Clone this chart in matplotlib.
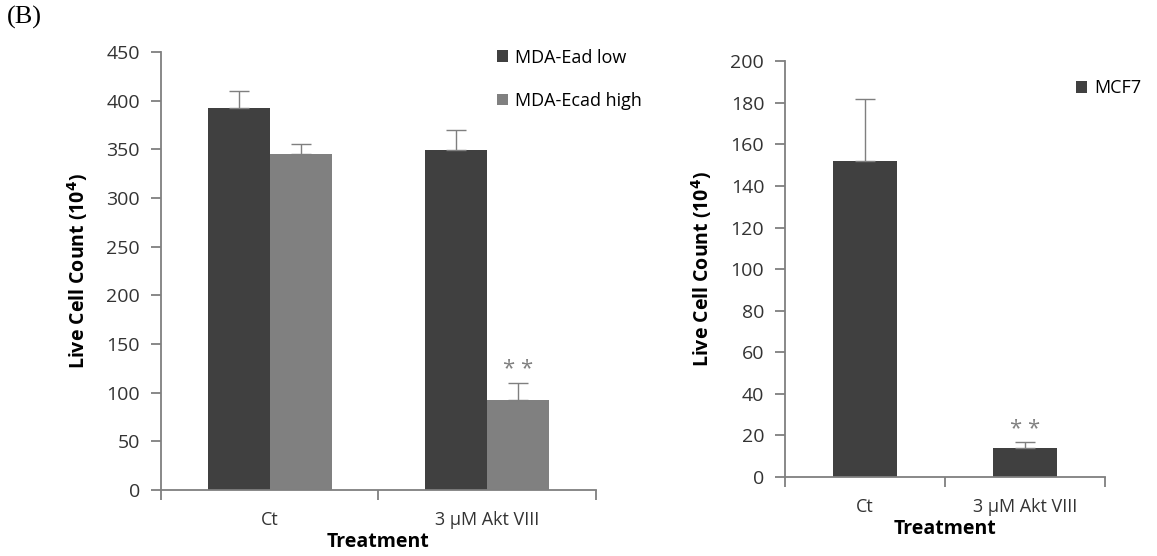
import numpy as np
import matplotlib.pyplot as plt

# podaci
treatments = ["Ct", "3 µM Akt VIII"]
mda_low = [392, 349]
mda_low_err = [18, 21]
mda_high = [345, 92]
mda_high_err = [10, 18]
mcf7 = [152, 14]
mcf7_err = [30, 3]

dark = "#404040"
light = "#808080"
axcol = "#7f7f7f"
plt.rcParams['font.family'] = ['Open Sans', 'DejaVu Sans']

fig = plt.figure(figsize=(11.57, 5.56), dpi=100)
ax1 = fig.add_axes([0.139, 0.1187, 0.376, 0.7878])
ax2 = fig.add_axes([0.6785, 0.142, 0.2765, 0.748])

x = np.arange(len(treatments))
w = 0.285
ek = dict(ecolor=axcol, elinewidth=1.0, capsize=7, capthick=1.0)
ax1.bar(x - w/2, mda_low, w, color=dark, label="MDA-Ead low",
        yerr=[np.zeros(2), mda_low_err], error_kw=ek)
ax1.bar(x + w/2, mda_high, w, color=light, label="MDA-Ecad high",
        yerr=[np.zeros(2), mda_high_err], error_kw=ek)
ax1.text(1 + w/2, mda_high[1] + mda_high_err[1] + 3, "* *", color=light, ha="center", va="bottom", fontsize=16)
ax1.set_ylim(0, 450)
ax1.set_yticks(np.arange(0, 451, 50))

ax2.bar(x, mcf7, 0.4, color=dark, label="MCF7",
        yerr=[np.zeros(2), mcf7_err], error_kw=ek)
ax2.text(1, mcf7[1] + mcf7_err[1] + 1, "* *", color=light, ha="center", va="bottom", fontsize=16)
ax2.set_ylim(0, 200)
ax2.set_yticks(np.arange(0, 201, 20))

for ax in (ax1, ax2):
    ax.set_xlim(-0.5, 1.5)
    ax.spines['top'].set_visible(False)
    ax.spines['right'].set_visible(False)
    ax.spines['left'].set_color(axcol)
    ax.spines['bottom'].set_color(axcol)
    ax.spines['left'].set_linewidth(1.3)
    ax.spines['bottom'].set_linewidth(1.3)
    ax.set_xticks([-0.5, 0.5, 1.5])
    ax.set_xticklabels([])
    ax.set_xticks(x, minor=True)
    ax.set_xticklabels(treatments, minor=True, fontsize=13, color="#333333")
    ax.tick_params(axis='x', which='minor', length=0, pad=15)
    ax.tick_params(axis='x', which='major', length=7, width=1.3, color=axcol)
    ax.tick_params(axis='y', length=7, width=1.3, color=axcol, labelsize=14, labelcolor="#333333", pad=8)
    ax.set_xlabel("Treatment", fontsize=14, fontweight="bold", labelpad=2)
    ax.set_ylabel("Live Cell Count (10$^\\mathbf{4}$)", fontsize=14, fontweight="bold", labelpad=12)

ax1.legend(loc="upper left", bbox_to_anchor=(0.735, 1.045), frameon=False, fontsize=13,
           handlelength=0.6, handleheight=0.6, handletextpad=0.4, labelspacing=1.4)
ax2.legend(loc="upper left", bbox_to_anchor=(0.86, 0.995), frameon=False, fontsize=13,
           handlelength=0.6, handleheight=0.6, handletextpad=0.4)

fig.text(0.006, 0.99, "(B)", family="Liberation Serif", fontsize=19, va="top", ha="left")

fig.savefig("out.png", dpi=100)
